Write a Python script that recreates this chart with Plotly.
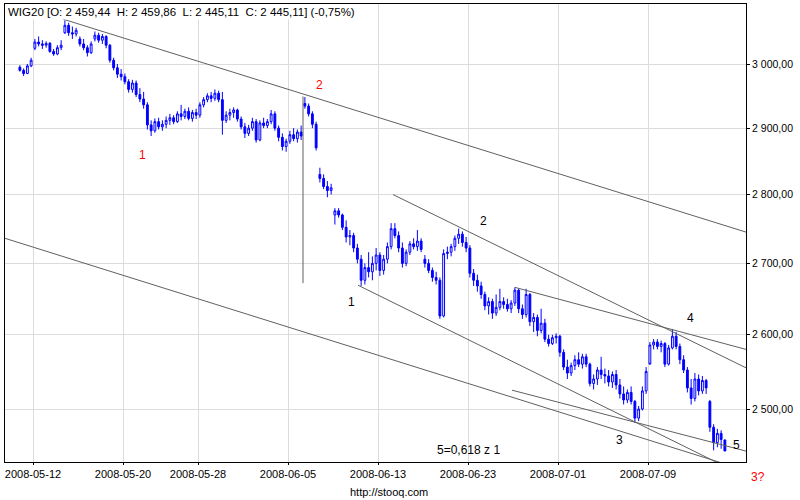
import math
import plotly.graph_objects as go

# trading sessions shown on the chart (05-22 was a holiday)
SESSIONS = [
    "2008-05-09", "2008-05-12", "2008-05-13", "2008-05-14", "2008-05-15", "2008-05-16",
    "2008-05-19", "2008-05-20", "2008-05-21", "2008-05-23", "2008-05-26", "2008-05-27",
    "2008-05-28", "2008-05-29", "2008-05-30", "2008-06-02", "2008-06-03", "2008-06-04",
    "2008-06-05", "2008-06-06", "2008-06-09", "2008-06-10", "2008-06-11", "2008-06-12",
    "2008-06-13", "2008-06-16", "2008-06-17", "2008-06-18", "2008-06-19", "2008-06-20",
    "2008-06-23", "2008-06-24", "2008-06-25", "2008-06-26", "2008-06-27", "2008-06-30",
    "2008-07-01", "2008-07-02", "2008-07-03", "2008-07-04", "2008-07-07", "2008-07-08",
    "2008-07-09", "2008-07-10", "2008-07-11", "2008-07-14", "2008-07-15", "2008-07-16",
]
BARS_PER_SESSION = 4

TICK_DATES = ["2008-05-12", "2008-05-20", "2008-05-28", "2008-06-05",
              "2008-06-13", "2008-06-23", "2008-07-01", "2008-07-09"]
PRICE_TICKS = [2500, 2600, 2700, 2800, 2900, 3000]

# WIG20 intraday bars, 4 per session
OPEN = [
    2995, 2990, 2985, 2997, 3025, 3035, 3032, 3030,
    3033, 3020, 3016, 3026, 3050, 3062, 3050, 3048,
    3040, 3032, 3026, 3018, 3040, 3046, 3038, 3044,
    3030, 3006, 2994, 2984, 2980, 2972, 2960, 2970,
    2952, 2945, 2936, 2905, 2896, 2910, 2902, 2906,
    2912, 2916, 2910, 2922, 2918, 2926, 2915, 2924,
    2920, 2936, 2944, 2950, 2946, 2954, 2944, 2912,
    2920, 2924, 2928, 2914, 2902, 2892, 2900, 2910,
    2882, 2908, 2904, 2910, 2922, 2900, 2886, 2872,
    2880, 2890, 2884, 2894, 2938, 2934, 2922, 2906,
    2830, 2824, 2812, 2806, 2770, 2776, 2770, 2752,
    2738, 2740, 2722, 2706, 2676, 2694, 2688, 2700,
    2712, 2690, 2706, 2724, 2750, 2740, 2722, 2700,
    2716, 2728, 2724, 2732, 2706, 2700, 2690, 2680,
    2676, 2626, 2714, 2716, 2724, 2736, 2742, 2730,
    2722, 2686, 2676, 2668, 2656, 2640, 2646, 2630,
    2638, 2646, 2642, 2636, 2644, 2662, 2636, 2628,
    2656, 2618, 2624, 2606, 2616, 2594, 2588, 2596,
    2598, 2576, 2556, 2548, 2558, 2566, 2560, 2570,
    2560, 2534, 2540, 2552, 2546, 2544, 2536, 2546,
    2532, 2520, 2512, 2522, 2510, 2488, 2500, 2524,
    2560, 2586, 2590, 2584, 2588, 2560, 2582, 2598,
    2584, 2566, 2552, 2528, 2514, 2540, 2524, 2538,
    2510, 2476, 2456, 2468, 2459.44,
]
HIGH = [
    2998, 2993, 3000, 3010, 3040, 3044, 3038, 3036,
    3035, 3024, 3030, 3038, 3070, 3066, 3060, 3058,
    3044, 3040, 3030, 3036, 3052, 3050, 3048, 3046,
    3032, 3010, 3000, 2992, 2985, 2976, 2975, 2974,
    2962, 2956, 2940, 2912, 2915, 2916, 2912, 2918,
    2922, 2920, 2926, 2936, 2930, 2932, 2928, 2930,
    2940, 2948, 2954, 2956, 2960, 2958, 2956, 2926,
    2930, 2932, 2930, 2918, 2908, 2905, 2916, 2914,
    2912, 2916, 2914, 2928, 2926, 2904, 2892, 2884,
    2896, 2900, 2898, 2904, 2948, 2938, 2926, 2910,
    2840, 2830, 2820, 2816, 2780, 2780, 2772, 2762,
    2748, 2744, 2728, 2712, 2700, 2716, 2710, 2722,
    2716, 2712, 2730, 2758, 2758, 2746, 2730, 2720,
    2732, 2736, 2748, 2736, 2712, 2706, 2694, 2688,
    2680, 2720, 2724, 2728, 2740, 2750, 2746, 2738,
    2726, 2692, 2684, 2674, 2660, 2652, 2650, 2656,
    2664, 2652, 2650, 2648, 2666, 2664, 2642, 2664,
    2658, 2630, 2628, 2636, 2622, 2600, 2600, 2602,
    2600, 2580, 2566, 2562, 2572, 2576, 2574, 2574,
    2562, 2546, 2556, 2570, 2554, 2552, 2550, 2552,
    2540, 2530, 2526, 2530, 2512, 2504, 2530, 2556,
    2590, 2594, 2594, 2592, 2590, 2586, 2608, 2604,
    2588, 2572, 2556, 2540, 2548, 2546, 2544, 2540,
    2512, 2480, 2474, 2472, 2459.86,
]
LOW = [
    2988, 2981, 2984, 2995, 3022, 3028, 3024, 3026,
    3018, 3013, 3014, 3022, 3048, 3045, 3040, 3044,
    3028, 3022, 3012, 3016, 3036, 3034, 3032, 3025,
    3002, 2990, 2978, 2974, 2968, 2955, 2955, 2948,
    2940, 2930, 2898, 2888, 2893, 2898, 2896, 2900,
    2905, 2906, 2908, 2912, 2914, 2912, 2910, 2914,
    2916, 2932, 2940, 2940, 2942, 2940, 2890, 2908,
    2912, 2916, 2910, 2898, 2885, 2888, 2896, 2878,
    2880, 2900, 2900, 2906, 2896, 2880, 2866, 2864,
    2876, 2880, 2878, 2882, 2930, 2918, 2900, 2866,
    2818, 2808, 2796, 2800, 2756, 2766, 2748, 2730,
    2726, 2716, 2700, 2668, 2670, 2680, 2676, 2690,
    2682, 2684, 2700, 2720, 2736, 2716, 2694, 2696,
    2712, 2720, 2718, 2716, 2694, 2686, 2674, 2670,
    2622, 2624, 2706, 2710, 2718, 2728, 2724, 2716,
    2680, 2668, 2660, 2650, 2634, 2628, 2622, 2626,
    2634, 2636, 2632, 2630, 2640, 2630, 2622, 2624,
    2612, 2604, 2598, 2602, 2590, 2584, 2586, 2588,
    2570, 2552, 2540, 2544, 2552, 2556, 2554, 2556,
    2530, 2526, 2532, 2540, 2534, 2530, 2528, 2526,
    2514, 2506, 2508, 2506, 2482, 2484, 2498, 2520,
    2562, 2580, 2580, 2576, 2556, 2558, 2580, 2580,
    2560, 2548, 2522, 2506, 2510, 2518, 2520, 2520,
    2470, 2446, 2450, 2448, 2445.11,
]
CLOSE = [
    2990, 2985, 2997, 3006, 3035, 3032, 3030, 3033,
    3020, 3016, 3026, 3030, 3062, 3050, 3048, 3054,
    3032, 3026, 3018, 3032, 3046, 3038, 3044, 3030,
    3006, 2994, 2984, 2980, 2972, 2960, 2970, 2952,
    2945, 2936, 2905, 2896, 2910, 2902, 2906, 2912,
    2916, 2910, 2922, 2918, 2926, 2915, 2924, 2920,
    2936, 2944, 2950, 2946, 2954, 2944, 2912, 2920,
    2924, 2928, 2914, 2902, 2892, 2900, 2910, 2882,
    2908, 2904, 2910, 2922, 2900, 2886, 2872, 2880,
    2890, 2884, 2894, 2888, 2934, 2922, 2906, 2870,
    2824, 2812, 2806, 2810, 2776, 2770, 2752, 2738,
    2740, 2722, 2706, 2676, 2694, 2688, 2700, 2712,
    2690, 2706, 2724, 2750, 2740, 2722, 2700, 2716,
    2728, 2724, 2732, 2720, 2700, 2690, 2680, 2676,
    2626, 2714, 2716, 2724, 2736, 2742, 2730, 2722,
    2686, 2676, 2668, 2656, 2640, 2646, 2630, 2638,
    2646, 2642, 2636, 2644, 2662, 2636, 2628, 2656,
    2618, 2624, 2606, 2616, 2594, 2588, 2596, 2598,
    2576, 2556, 2548, 2558, 2566, 2560, 2570, 2560,
    2534, 2540, 2552, 2546, 2544, 2536, 2546, 2532,
    2520, 2512, 2522, 2510, 2488, 2500, 2524, 2550,
    2586, 2590, 2584, 2588, 2560, 2582, 2598, 2584,
    2566, 2552, 2528, 2514, 2540, 2524, 2538, 2528,
    2476, 2456, 2468, 2460, 2445.11,
]

# hand-drawn trend lines: (session position, price) start and end
LINE_X0 = [3.0, -0.867, 19.0, 22.67, 32.93, 25.0, 33.13]
LINE_P0 = [3072, 2736, 2949, 2669, 2525, 2800, 2666]
LINE_X1 = [48.533, 48.533, 19.0, 48.533, 48.533, 48.533, 48.533]
LINE_P1 = [2745, 2420, 2672, 2412, 2445, 2555, 2580]

# wave labels
WAVE_TEXT = ["1", "2", "1", "2", "3", "4", "5", "5=0,618 z 1"]
WAVE_X = [8.33, 20.07, 22.2, 31.0, 40.07, 44.8, 47.93, 30.0]
WAVE_P = [2859, 2967, 2645, 2761, 2459, 2623, 2453, 2446]
WAVE_COLOR = ["red", "red", "black", "black", "black", "black", "black", "black"]


def pl(v):
    # polish number format: 2 459,44
    s = f"{v:,.2f}"
    return s.replace(",", " ").replace(".", ",")


bar_x = [i // BARS_PER_SESSION + (i % BARS_PER_SESSION + 0.5) / BARS_PER_SESSION
         for i in range(len(CLOSE))]

FONT = "Liberation Sans, Arial, sans-serif"

fig = go.Figure()

for x0, p0, x1, p1 in zip(LINE_X0, LINE_P0, LINE_X1, LINE_P1):
    fig.add_trace(go.Scatter(
        x=[x0, x1], y=[p0, p1], mode="lines",
        line=dict(color="#606060", width=1),
        hoverinfo="skip", showlegend=False
    ))

fig.add_trace(go.Candlestick(
    x=bar_x, open=OPEN, high=HIGH, low=LOW, close=CLOSE,
    increasing=dict(line=dict(color="#0000ff", width=1), fillcolor="white"),
    decreasing=dict(line=dict(color="#0000ff", width=1), fillcolor="#0000ff"),
    whiskerwidth=0,
    showlegend=False
))

# annotations on a log axis take log10 of the price
for t, x, p, c in zip(WAVE_TEXT, WAVE_X, WAVE_P, WAVE_COLOR):
    fig.add_annotation(x=x, y=math.log10(p), text=t, showarrow=False,
                       font=dict(family=FONT, size=12, color=c))

title = (f"WIG20 [O: {pl(OPEN[-1])}\u00a0 H: {pl(HIGH[-1])}\u00a0 "
         f"L: {pl(LOW[-1])}\u00a0 C: {pl(CLOSE[-1])}] (-0,75%)")
fig.add_annotation(xref="paper", yref="paper", x=0.002, y=0.999,
                   xanchor="left", yanchor="top", text=title, showarrow=False,
                   bgcolor="white", borderpad=1,
                   font=dict(family=FONT, size=11.5, color="black"))
fig.add_annotation(xref="paper", yref="paper", x=1.016, y=-0.033,
                   xanchor="center", yanchor="middle", text="3?",
                   showarrow=False, font=dict(family=FONT, size=12, color="red"))
fig.add_annotation(xref="paper", yref="paper", x=0.518, y=-0.0655,
                   xanchor="center", yanchor="middle",
                   text="http://stooq.com", showarrow=False,
                   font=dict(family=FONT, size=11, color="black"))

fig.update_layout(
    width=800, height=500,
    margin=dict(l=5, r=54, t=4, b=38),
    paper_bgcolor="white", plot_bgcolor="white",
    showlegend=False,
    font=dict(family=FONT, size=11, color="black"),
    xaxis=dict(
        range=[-0.867, 48.533],
        tickvals=[SESSIONS.index(d) for d in TICK_DATES],
        ticktext=TICK_DATES,
        showgrid=True, gridcolor="#dcdcdc", gridwidth=1,
        showline=True, linecolor="black", linewidth=1, mirror=True,
        ticks="outside", ticklen=2, tickcolor="black",
        zeroline=False, rangeslider=dict(visible=False),
        tickfont=dict(family=FONT, size=11),
    ),
    yaxis=dict(
        type="log", side="right",
        range=[3.385776, 3.490896],
        tickvals=PRICE_TICKS,
        ticktext=[pl(v) for v in PRICE_TICKS],
        showgrid=True, gridcolor="#dcdcdc", gridwidth=1,
        showline=True, linecolor="black", linewidth=1, mirror=True,
        ticks="outside", ticklen=3, tickcolor="black",
        zeroline=False,
        tickfont=dict(family=FONT, size=10.5),
    ),
)

# page body has a default 8px margin; drop it so the figure sits at the corner
fig.write_html("out.html", config={"displayModeBar": False},
               post_script="document.body.style.margin='0';")
